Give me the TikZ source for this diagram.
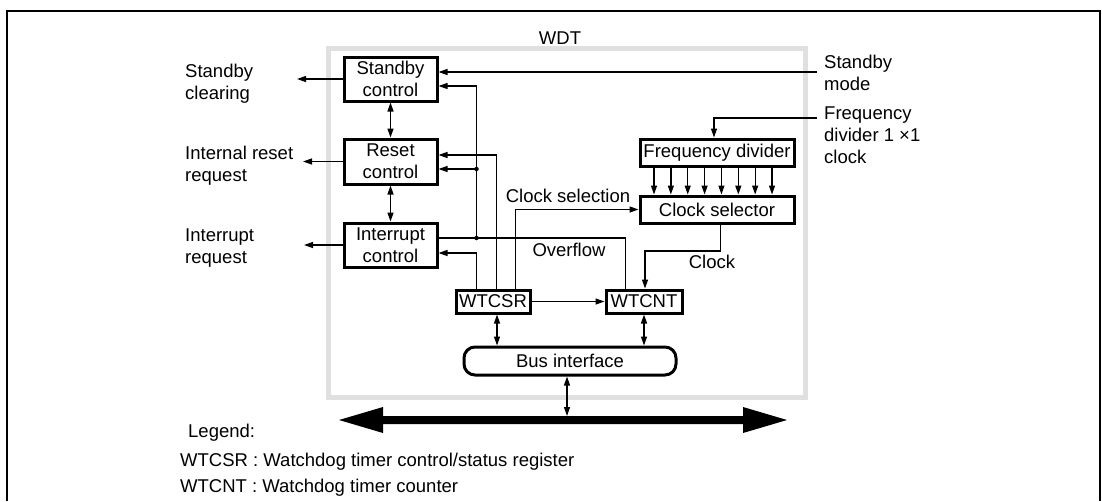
\documentclass[tikz,border=0pt]{standalone}
\usepackage{fontspec}
\setmainfont{Liberation Sans}
\usetikzlibrary{arrows.meta,calc}
\begin{document}
\begin{tikzpicture}[x=1pt,y=-1pt,
  every node/.style={font=\fontsize{18.5}{22}\selectfont, inner sep=0pt},
  blk/.style={draw, line width=3pt, align=center},
  wire/.style={line width=1.3pt},
  arr/.style={wire, -{Triangle[length=9pt,width=6pt]}},
  darr/.style={wire, {Triangle[length=9pt,width=6pt]}-{Triangle[length=9pt,width=6pt]}},
  lbl/.style={anchor=west, align=left},
  dot/.style={circle, fill, minimum size=4.5pt, inner sep=0pt}
]
\useasboundingbox (0,0) rectangle (1102,501);
% outer frame
\draw[line width=1.8pt] (7,501) -- (7,11) -- (1100,11) -- (1100,501);
% WDT frame
\node[draw=black!12, line width=5pt, minimum width=477pt, minimum height=349.5pt] (wdt) at (567,222.75) {};
\node (l_wdt) at (560,38) {WDT};

% blocks
\node[blk, minimum width=93pt, minimum height=44pt] (sbctl) at (390.5,79) {Standby\\control};
\node[blk, minimum width=93pt, minimum height=45pt] (rstctl) at (390.5,161.5) {Reset\\control};
\node[blk, minimum width=93pt, minimum height=44pt] (intctl) at (390.5,245) {Interrupt\\control};
\node[blk, minimum width=154pt, minimum height=27pt] (fdiv) at (717,152.5) {Frequency divider};
\node[blk, minimum width=154pt, minimum height=27pt] (clksel) at (717,209.5) {Clock selector};
\node[blk, minimum width=74pt, minimum height=23pt] (wtcsr) at (493,301.5) {WTCSR};
\node[blk, minimum width=76pt, minimum height=23pt] (wtcnt) at (644,301.5) {WTCNT};
\node[blk, rounded corners=11pt, minimum width=212pt, minimum height=28pt] (bus) at (570,361) {Bus interface};

% labels
\node[lbl] (l_sbclr) at (185,84) {Standby\\clearing};
\node[lbl] (l_irr) at (185,165.5) {Internal reset\\request};
\node[lbl] (l_intr) at (185,248.5) {Interrupt\\request};
\node[lbl] (l_sbm) at (824,73) {Standby\\mode};
\node[lbl] (l_fd) at (824,135.5) {Frequency\\divider 1 ×1\\clock};
\node (l_cs) at (568,196) {Clock selection};
\node (l_of) at (569,250) {Overflow};
\node (l_clk) at (712,262) {Clock};
\node[lbl] (l_leg) at (188,433) {Legend:};
\node[lbl] (l_l1) at (180,462) {WTCSR : Watchdog timer control/status register};
\node[lbl] (l_l2) at (180,488) {WTCNT : Watchdog timer counter};

% outputs to the left
\coordinate (sbo) at (297,79);
\coordinate (rso) at (303,161.5);
\coordinate (ino) at (304,245);
\draw[arr] (sbctl.west) -- (sbo);
\draw[arr] (rstctl.west) -- (rso);
\draw[arr] (intctl.west) -- (ino);

% between control blocks
\draw[darr] (sbctl.south) -- (rstctl.north);
\draw[darr] (rstctl.south) -- (intctl.north);

% standby mode input
\coordinate (sbm) at (817,72);
\draw[arr] (sbm) -- (sbm -| sbctl.east);
% frequency divider clock input
\coordinate (fdin) at (817,118);
\draw[arr] (fdin) -| ($(fdiv.north)+(-3,0)$);

% divider to selector
\foreach \i in {0,...,7}
  \draw[arr] ($(fdiv.south west)+(15.5+16.86*\i,0)$) -- ($(clksel.north west)+(15.5+16.86*\i,0)$);

% WTCSR outputs
\draw[arr] ($(wtcsr.north west)+(61,0)$) |- (clksel.west);
\draw[arr] ($(wtcsr.north west)+(42,0)$) |- ($(rstctl.east)+(0,-6.5)$);
\draw[arr] ($(wtcsr.north west)+(22,0)$) |- ($(intctl.east)+(0,8)$);

% overflow
\coordinate (ovl) at ($(intctl.east)+(0,-7)$);
\coordinate (ovx) at ($(wtcsr.north west)+(22,0)$);
\draw[wire] ($(wtcnt.north west)+(21,0)$) |- (ovl);
\node[dot] (ovj) at (ovx |- ovl) {};
\coordinate (sbin2) at ($(sbctl.east)+(0,7)$);
\draw[arr] (ovj.center) |- (sbin2);
\coordinate (rsin2) at ($(rstctl.east)+(0,7.5)$);
\node[dot] (rj) at (rsin2 -| ovj) {};
\draw[arr] (rj.center) -- (rsin2);

% clock
\draw[arr] ($(clksel.south west)+(82,0)$) -- ++(0,26.5) -| ($(wtcnt.north)+(1,0)$);

% WTCSR -> WTCNT
\draw[arr] (wtcsr.east) -- (wtcnt.west);

% to bus interface
\coordinate (b1) at ($(wtcsr.south)+(4,0)$);
\draw[darr] (b1) -- (b1 |- bus.north);
\draw[darr] (wtcnt.south) -- (wtcnt.south |- bus.north);

% internal bus
\fill (339,420) -- (383,407) -- (383,416) -- (743,416) -- (743,407) -- (787,420)
      -- (743,433) -- (743,424) -- (383,424) -- (383,433) -- cycle;
\coordinate (bb) at ($(bus.south)+(-3,0)$);
\coordinate (bustop) at (567,416);
\draw[darr] (bb) -- (bb |- bustop);
\end{tikzpicture}
\end{document}
